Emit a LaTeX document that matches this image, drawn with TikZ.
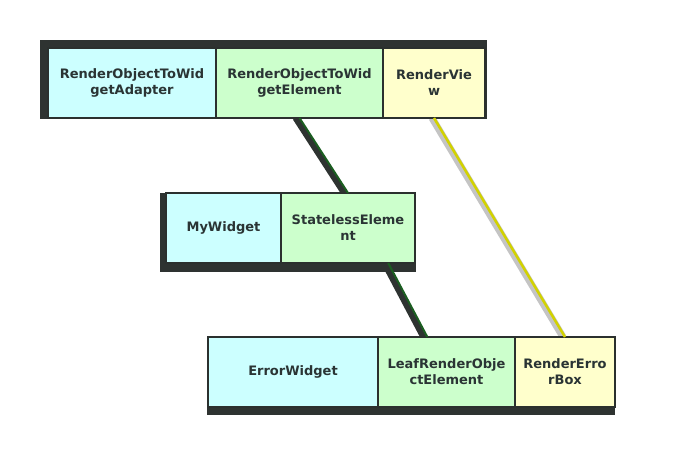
\documentclass[tikz,border=0pt]{standalone}
\usepackage{fontspec}
\newfontfamily\cellfont{DejaVu Sans}
\usetikzlibrary{calc,positioning,backgrounds}

\definecolor{cellcyan}{HTML}{CCFFFF}
\definecolor{cellgreen}{HTML}{CCFFCC}
\definecolor{cellyellow}{HTML}{FFFFCC}
\definecolor{celledge}{HTML}{2B302E}
\definecolor{celltext}{HTML}{2A3434}
\definecolor{rowdark}{HTML}{2E3331}
\definecolor{linkgreen}{HTML}{1B5E20}
\definecolor{linkyellow}{HTML}{D2D200}
\definecolor{haze}{HTML}{C4C4C4}

\begin{document}
\begin{tikzpicture}[x=1pt,y=-1pt,
	cell/.style={draw=celledge,line width=1.2pt,minimum height=70pt,inner sep=0pt,outer sep=0pt,
		align=center,text=celltext,font=\cellfont\bfseries\fontsize{13}{16}\selectfont},
	rowshade/.style={fill=rowdark},
	linkshade/.style={draw=rowdark,line width=6pt},
	linkhaze/.style={draw=haze,line width=7pt},
	greenlink/.style={draw=linkgreen,line width=2pt},
	yellowlink/.style={draw=linkyellow,line width=2.5pt}]

	\useasboundingbox (0,0) rectangle (677,470);

	% ---- top row

	\node[cell,fill=cellcyan,minimum width=168pt,anchor=north west] (adapter) at (48,48) {RenderObjectToWid\\getAdapter};
	\node[cell,fill=cellgreen,minimum width=167pt,right=0pt of adapter] (adapterelem) {RenderObjectToWid\\getElement};
	\node[cell,fill=cellyellow,minimum width=102pt,right=0pt of adapterelem] (view) {RenderVie\\w};

	% ---- middle row

	\node[cell,fill=cellcyan,minimum width=115pt,anchor=north west] (mywidget) at (166,193) {MyWidget};
	\node[cell,fill=cellgreen,minimum width=134pt,right=0pt of mywidget] (stateless) {StatelessEleme\\nt};

	% ---- bottom row

	\node[cell,fill=cellcyan,minimum width=170pt,anchor=north west] (errwidget) at (208,337) {ErrorWidget};
	\node[cell,fill=cellgreen,minimum width=137pt,right=0pt of errwidget] (leafelem) {LeafRenderObje\\ctElement};
	\node[cell,fill=cellyellow,minimum width=100pt,right=0pt of leafelem] (errbox) {RenderErro\\rBox};

	% ---- links

	\coordinate (statelessfoot) at ($(stateless.south west)!0.8!(stateless.south east)$);
	\coordinate (leafhead) at ($(leafelem.north west)!0.36!(leafelem.north east)$);

	\draw[greenlink] (adapterelem.south) -- (stateless.north);
	\draw[greenlink] (statelessfoot) -- (leafhead);
	\draw[yellowlink] (view.south) -- (errbox.north);

	% ---- shadows

	\begin{scope}[on background layer]
		\fill[rowshade] ($(adapter.north west)+(-8,-8)$) rectangle ($(view.south east)+(2,1)$);
		\fill[rowshade] ($(mywidget.north west)+(-6,0)$) rectangle ($(stateless.south east)+(1,9)$);
		\fill[rowshade] ($(errwidget.north west)+(-1,0)$) rectangle ($(errbox.south east)+(0,8)$);
		\draw[linkshade] ($(adapterelem.south)+(-4,0)$) -- ($(stateless.north)+(-4,0)$);
		\draw[linkshade] ($(statelessfoot)+(-4,0)$) -- ($(leafhead)+(-4,0)$);
		\draw[linkhaze] ($(view.south)+(-2,0)$) -- ($(errbox.north)+(-2,0)$);
	\end{scope}

\end{tikzpicture}
\end{document}
